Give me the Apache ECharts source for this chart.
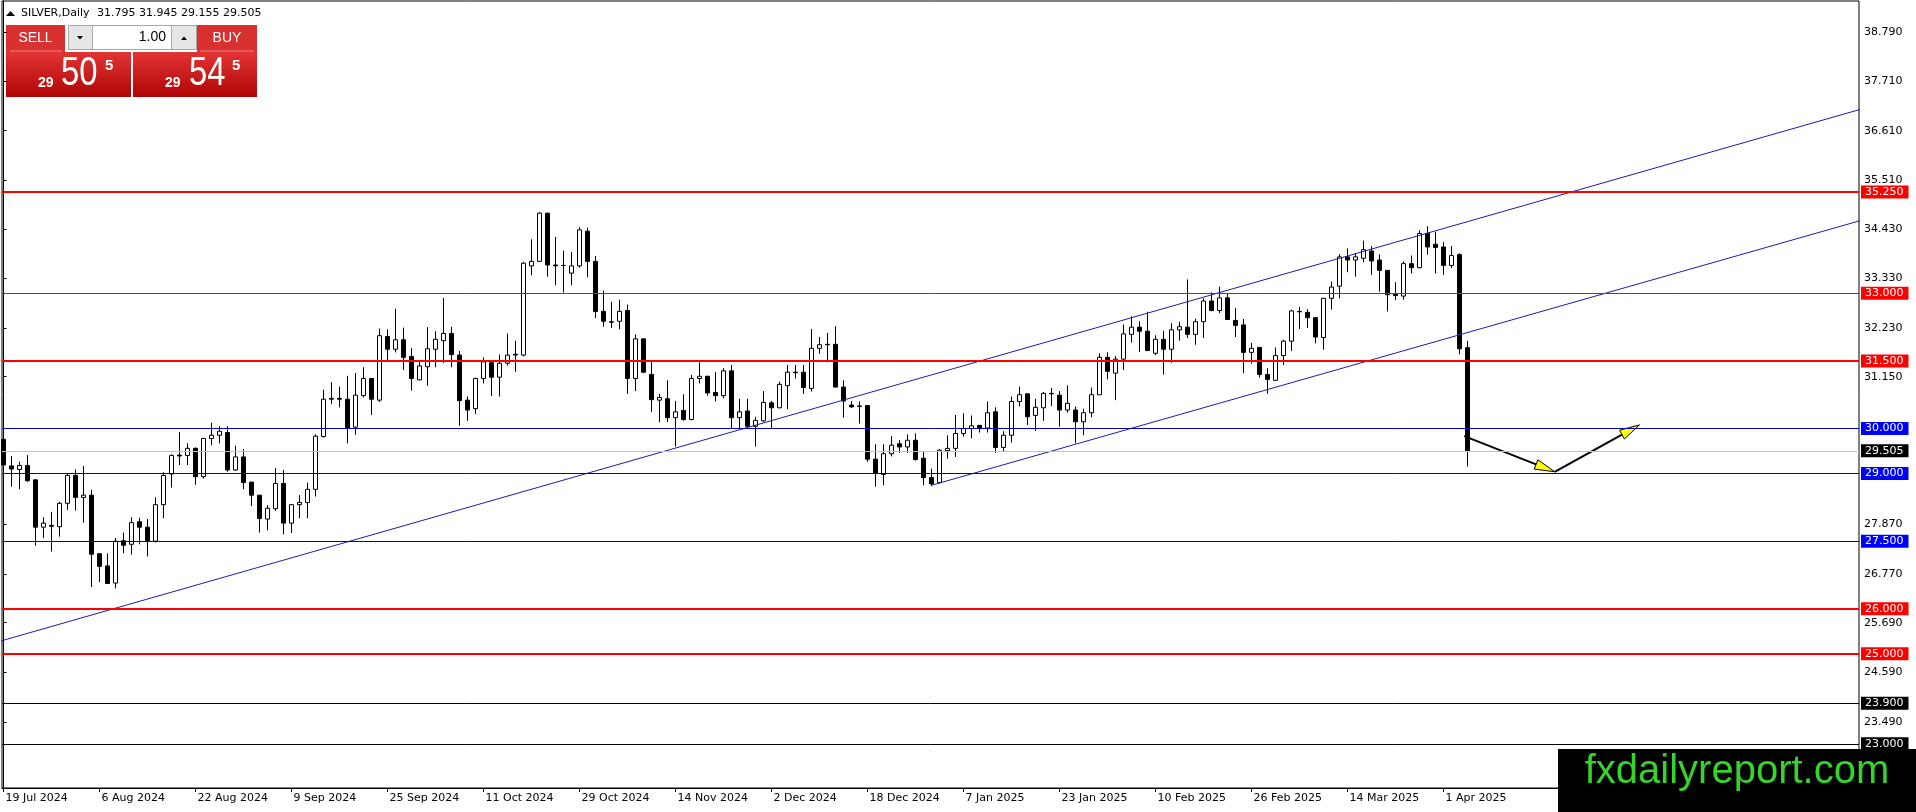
<!DOCTYPE html>
<html>
<head>
<meta charset="utf-8">
<script src="https://cdn.jsdelivr.net/npm/echarts@6/dist/echarts.min.js"></script>
<style>
html, body { margin: 0; padding: 0; background: #fff; }
#main { width: 1916px; height: 812px; }
</style>
</head>
<body>
<div id="main"></div>
<script>
// SILVER daily, 19 Jul 2024 .. 4 Apr 2025
const OPEN = [
  29.76, 29.17, 29.09, 29.18, 28.86, 27.81, 27.85, 27.82, 28.34, 28.96,
  28.47, 28.52, 27.22, 26.95, 26.57, 27.51, 27.43, 27.93, 27.81, 27.50,
  28.31, 28.99, 29.41, 29.40, 29.56, 28.93, 29.78, 29.85, 29.91, 29.08,
  29.37, 28.81, 28.52, 27.99, 28.22, 28.78, 27.90, 28.31, 28.36, 28.65,
  29.82, 30.65, 30.67, 30.65, 30.03, 30.73, 31.11, 30.63, 32.04, 31.76,
  31.97, 31.60, 31.08, 31.37, 31.76, 31.95, 32.11, 31.63, 30.63, 30.44,
  31.11, 31.46, 31.14, 31.45, 31.63, 31.63, 33.61, 33.71, 34.78, 33.63,
  33.62, 33.45, 33.61, 34.38, 33.71, 32.60, 32.37, 32.38, 32.62, 31.11,
  31.99, 31.20, 30.63, 30.66, 30.24, 30.40, 30.20, 31.11, 31.16, 30.80,
  30.73, 31.28, 30.24, 30.39, 30.05, 30.17, 30.57, 30.46, 30.95, 31.25,
  31.25, 30.89, 31.78, 31.86, 31.87, 30.92, 30.52, 30.49, 30.51, 29.32,
  28.98, 29.44, 29.66, 29.59, 29.74, 29.34, 28.91, 28.80, 29.51, 29.56,
  29.89, 30.00, 30.07, 30.01, 30.37, 29.58, 29.85, 30.60, 30.77, 30.29,
  30.46, 30.78, 30.74, 30.41, 30.41, 30.15, 30.35, 30.75, 31.58, 31.23,
  31.54, 32.09, 32.25, 32.16, 31.67, 31.98, 31.76, 32.19, 32.25, 32.09,
  32.37, 32.83, 32.62, 32.90, 32.40, 32.30, 31.69, 31.80, 31.20, 31.07,
  31.62, 31.94, 32.60, 32.58, 32.46, 32.02, 32.89, 33.16, 33.81, 33.74,
  33.78, 33.94, 33.74, 33.51, 32.98, 32.94, 33.66, 33.57, 34.33, 34.09,
  34.03, 33.62, 33.86, 31.795
];
const HIGH = [
  29.80, 29.39, 29.26, 29.41, 28.87, 28.03, 28.15, 28.37, 28.99, 29.09,
  29.17, 28.64, 27.23, 27.23, 27.57, 27.69, 28.03, 28.02, 27.99, 28.47,
  29.03, 29.43, 29.92, 29.67, 29.58, 29.79, 30.13, 30.05, 30.05, 29.62,
  29.54, 28.81, 28.52, 28.30, 29.12, 29.08, 28.31, 28.52, 28.80, 29.87,
  30.86, 31.03, 30.93, 31.17, 31.23, 31.36, 31.12, 32.22, 32.20, 32.66,
  32.24, 31.79, 31.52, 32.25, 32.16, 32.90, 32.26, 31.72, 30.71, 31.13,
  31.58, 31.48, 31.64, 32.11, 31.95, 33.70, 34.20, 34.80, 34.79, 34.25,
  33.95, 33.92, 34.47, 34.46, 33.83, 33.06, 32.81, 32.86, 32.75, 32.09,
  32.00, 31.49, 30.77, 31.07, 30.61, 30.76, 31.19, 31.47, 31.17, 31.25,
  31.34, 31.41, 30.66, 30.66, 30.26, 30.83, 30.61, 31.04, 31.41, 31.41,
  31.41, 32.21, 32.03, 32.12, 32.27, 31.07, 30.61, 30.60, 30.52, 29.65,
  29.65, 29.83, 29.74, 29.87, 29.89, 29.50, 29.11, 29.54, 29.85, 30.30,
  30.34, 30.29, 30.07, 30.60, 30.47, 29.94, 30.71, 30.93, 30.78, 30.66,
  30.81, 30.90, 30.83, 30.96, 30.49, 30.44, 30.91, 31.67, 31.69, 31.61,
  32.31, 32.49, 32.38, 32.59, 32.07, 32.17, 32.34, 32.37, 33.31, 32.44,
  32.89, 33.02, 33.15, 33.00, 32.68, 32.43, 31.90, 31.81, 31.34, 31.80,
  31.97, 32.64, 32.70, 32.65, 32.47, 32.90, 33.26, 33.87, 34.00, 33.89,
  34.17, 34.05, 33.87, 33.52, 33.25, 33.71, 33.84, 34.40, 34.49, 34.37,
  34.14, 34.05, 33.89, 31.945
];
const LOW = [
  28.86, 28.71, 28.65, 28.82, 27.40, 27.57, 27.27, 27.60, 28.19, 28.18,
  27.91, 26.48, 26.59, 26.56, 26.45, 27.23, 27.20, 27.43, 27.16, 27.47,
  28.01, 28.69, 29.19, 29.19, 28.75, 28.89, 29.63, 29.67, 29.04, 29.06,
  28.65, 28.28, 27.69, 27.74, 28.17, 27.65, 27.68, 28.01, 28.01, 28.49,
  29.80, 30.54, 30.47, 29.67, 29.86, 30.69, 30.30, 30.59, 31.52, 31.69,
  31.30, 30.84, 31.07, 30.95, 31.36, 31.45, 31.36, 30.06, 30.17, 30.32,
  31.00, 30.72, 30.71, 31.40, 31.26, 31.60, 33.40, 33.70, 33.37, 33.18,
  33.02, 33.18, 33.57, 33.36, 32.45, 32.26, 32.23, 32.20, 30.77, 30.83,
  31.23, 30.37, 30.14, 30.14, 29.60, 30.17, 30.18, 31.00, 30.73, 30.60,
  30.67, 30.00, 30.00, 30.00, 29.60, 30.15, 30.00, 30.45, 30.43, 31.11,
  30.77, 30.82, 31.66, 31.47, 30.91, 30.24, 30.46, 30.11, 29.26, 28.71,
  28.74, 29.38, 29.46, 29.46, 29.29, 28.74, 28.72, 28.78, 29.33, 29.37,
  29.82, 29.78, 29.91, 29.91, 29.46, 29.48, 29.69, 30.49, 30.08, 29.95,
  30.17, 30.50, 30.04, 30.35, 29.67, 29.85, 30.25, 30.75, 31.09, 30.63,
  31.30, 31.91, 31.70, 31.73, 31.63, 31.20, 31.46, 31.95, 32.01, 31.86,
  32.01, 32.60, 32.56, 32.42, 32.03, 31.23, 31.44, 31.13, 30.77, 31.06,
  31.41, 31.72, 32.21, 32.23, 31.89, 31.75, 32.64, 32.89, 33.47, 33.37,
  33.69, 33.41, 33.04, 32.60, 32.85, 32.86, 33.44, 33.56, 33.86, 33.44,
  33.41, 33.56, 31.65, 29.155
];
const CLOSE = [
  29.19, 29.10, 29.18, 28.84, 27.81, 27.90, 27.83, 28.34, 28.96, 28.47,
  28.52, 27.21, 26.94, 26.56, 27.50, 27.41, 27.91, 27.81, 27.50, 28.31,
  28.96, 29.40, 29.39, 29.56, 28.93, 29.78, 29.85, 29.94, 29.08, 29.37,
  28.80, 28.52, 28.00, 28.23, 28.78, 27.90, 28.31, 28.36, 28.65, 29.83,
  30.65, 30.67, 30.65, 30.01, 30.74, 31.11, 30.65, 32.06, 31.76, 31.97,
  31.58, 31.11, 31.39, 31.77, 31.98, 32.11, 31.64, 30.62, 30.41, 31.11,
  31.48, 31.14, 31.45, 31.63, 31.65, 33.67, 33.71, 34.78, 33.63, 33.61,
  33.62, 33.61, 34.41, 33.71, 32.60, 32.38, 32.36, 32.60, 31.11, 31.99,
  31.25, 30.64, 30.69, 30.24, 30.37, 30.20, 31.11, 31.16, 30.79, 30.73,
  31.28, 30.24, 30.37, 30.05, 30.18, 30.58, 30.46, 30.98, 31.25, 31.24,
  30.91, 31.78, 31.86, 31.87, 30.92, 30.61, 30.48, 30.50, 29.32, 29.01,
  29.44, 29.63, 29.59, 29.74, 29.31, 28.91, 28.77, 29.52, 29.56, 29.89,
  30.00, 30.06, 30.01, 30.35, 29.58, 29.85, 30.60, 30.75, 30.26, 30.47,
  30.78, 30.77, 30.41, 30.56, 30.15, 30.35, 30.75, 31.58, 31.27, 31.54,
  32.10, 32.25, 32.16, 31.73, 31.98, 31.76, 32.19, 32.26, 32.09, 32.37,
  32.83, 32.62, 32.90, 32.42, 32.29, 31.69, 31.78, 31.20, 31.09, 31.62,
  31.94, 32.61, 32.59, 32.46, 32.03, 32.89, 33.14, 33.81, 33.74, 33.81,
  33.97, 33.72, 33.51, 32.97, 32.95, 33.66, 33.57, 34.33, 34.03, 34.02,
  33.62, 33.84, 31.77, 29.505
];

// date axis: a label every 12 bars
const TICK_POS = [0, 12, 24, 36, 48, 60, 72, 84, 96, 108, 120, 132, 144, 156, 168, 180];
const TICK_LABELS = [
  '19 Jul 2024', '6 Aug 2024', '22 Aug 2024', '9 Sep 2024', '25 Sep 2024', '11 Oct 2024',
  '29 Oct 2024', '14 Nov 2024', '2 Dec 2024', '18 Dec 2024', '7 Jan 2025', '23 Jan 2025',
  '10 Feb 2025', '26 Feb 2025', '14 Mar 2025', '1 Apr 2025'
];
const PRICE_TICKS = [38.79, 37.71, 36.61, 35.51, 34.43, 33.33, 32.23, 31.15, 27.87, 26.77, 25.69, 24.59, 23.49];

// horizontal levels and their kind
const LEVEL_VALUES = [35.25, 33.0, 31.5, 30.0, 29.505, 29.0, 27.5, 26.0, 25.0, 23.9, 23.0];
const LEVEL_KINDS = ['redThick', 'red', 'redThick', 'blue', 'bid', 'blue', 'blue', 'redThick', 'redThick', 'black', 'black'];

// trend channel, [bar index, price]
const TREND_UPPER = [[-1, 25.25], [233, 37.13]];
const TREND_LOWER = [[116, 28.74], [233, 34.66]];

// projection arrows: [from bar, from price, to bar, to price]
const ARROWS = [
  [182.6, 29.83, 193.9, 29.04],
  [193.9, 29.04, 204.5, 30.08]
];

const KIND_STYLE = {
  redThick: { line: '#ff0000', width: 2, bg: '#ff0000' },
  red: { line: '#ff0000', width: 1, bg: '#ff0000' },
  blue: { line: '#0000b4', width: 1, bg: '#0000ff' },
  bid: { line: '#c0c0c0', width: 1, bg: '#000000' },
  black: { line: '#000000', width: 1, bg: '#000000' }
};

const FONT = 'DejaVu Sans';
const TREND_COLOR = '#1c1ca8';
const candles = OPEN.map((o, i) => [i, o, CLOSE[i], LOW[i], HIGH[i]]);

const levelLines = LEVEL_VALUES.map((v, i) => {
  const s = KIND_STYLE[LEVEL_KINDS[i]];
  return {
    yAxis: v,
    lineStyle: { color: s.line, width: s.width, type: 'solid' },
    label: { backgroundColor: s.bg }
  };
});

function renderArrow(params, api) {
  const a = api.coord([api.value(0), api.value(1)]);
  const b = api.coord([api.value(2), api.value(3)]);
  const dx = b[0] - a[0], dy = b[1] - a[1];
  const len = Math.sqrt(dx * dx + dy * dy);
  const ux = dx / len, uy = dy / len;
  const hl = 20, hw = 5;
  const bx = b[0] - ux * hl, by = b[1] - uy * hl;
  return {
    type: 'group',
    children: [
      { type: 'line', shape: { x1: a[0], y1: a[1], x2: bx, y2: by }, style: { stroke: '#000', lineWidth: 2 } },
      {
        type: 'polygon',
        shape: { points: [[b[0], b[1]], [bx - uy * hw, by + ux * hw], [bx + uy * hw, by - ux * hw]] },
        style: { fill: '#ffff00', stroke: '#000', lineWidth: 1 }
      }
    ]
  };
}

var myChart = echarts.init(document.getElementById('main'))

var redGrad = new echarts.graphic.LinearGradient(0, 0, 0, 1, [
  { offset: 0, color: '#e33434' },
  { offset: 1, color: '#b00606' }
]);

var option = {
  animation: false,
  backgroundColor: '#fff',
  grid: {
    left: 2, right: 57, top: 1, bottom: 24,
    show: true, borderColor: '#000', borderWidth: 1
  },
  xAxis: {
    type: 'value',
    min: -0.19,
    max: 231.94,
    axisLine: { show: true, lineStyle: { color: '#000', width: 1 } },
    axisTick: { show: true, customValues: TICK_POS, length: 4, lineStyle: { color: '#000' } },
    axisLabel: {
      customValues: TICK_POS,
      formatter: (v) => TICK_LABELS[TICK_POS.indexOf(v)],
      align: 'left',
      padding: [0, 0, 0, 2],
      margin: 5,
      color: '#000',
      fontSize: 11,
      fontFamily: FONT
    },
    splitLine: { show: false }
  },
  yAxis: {
    type: 'value',
    position: 'right',
    min: 22.02,
    max: 39.49,
    axisLine: { show: true, lineStyle: { color: '#000', width: 1 } },
    axisTick: { show: true, customValues: PRICE_TICKS, length: 3, lineStyle: { color: '#000' } },
    axisLabel: {
      customValues: PRICE_TICKS,
      formatter: (v) => v.toFixed(3),
      margin: 5,
      color: '#000',
      fontSize: 11,
      fontFamily: FONT
    },
    splitLine: { show: false }
  },
  series: [
    {
      type: 'candlestick',
      data: candles,
      encode: { x: 0, y: [1, 2, 3, 4] },
      barWidth: 4,
      itemStyle: {
        color: '#fff',
        color0: '#000',
        borderColor: '#000',
        borderColor0: '#000',
        borderWidth: 1
      },
      markLine: {
        silent: true,
        symbol: ['none', 'none'],
        precision: 3,
        animation: false,
        label: {
          show: true,
          position: 'end',
          distance: 2,
          formatter: (p) => Number(p.value).toFixed(3),
          color: '#fff',
          fontSize: 11,
          fontFamily: FONT,
          padding: [1, 5, 1, 4]
        },
        data: levelLines
      }
    },
    {
      type: 'line',
      data: TREND_UPPER,
      symbol: 'none',
      silent: true,
      lineStyle: { color: TREND_COLOR, width: 1 },
      z: 3
    },
    {
      type: 'line',
      data: TREND_LOWER,
      symbol: 'none',
      silent: true,
      lineStyle: { color: TREND_COLOR, width: 1 },
      z: 3
    },
    {
      type: 'custom',
      data: ARROWS,
      encode: { x: [0, 2], y: [1, 3] },
      renderItem: renderArrow,
      silent: true,
      z: 4
    }
  ],
  graphic: [
    // header
    { type: 'polygon', shape: { points: [[6, 16], [10.5, 11], [15, 16]] }, style: { fill: '#000' } },
    { type: 'text', x: 21, y: 13, style: { text: 'SILVER,Daily', fontSize: 11, fontFamily: FONT, fill: '#000', verticalAlign: 'middle' } },
    { type: 'text', x: 97, y: 13, style: { text: '31.795 31.945 29.155 29.505', fontSize: 11, fontFamily: FONT, fill: '#000', verticalAlign: 'middle' } },
    // one-click trading panel
    { type: 'rect', shape: { x: 6, y: 25, width: 59, height: 27 }, style: { fill: '#d93030' } },
    { type: 'rect', shape: { x: 197, y: 25, width: 60, height: 27 }, style: { fill: '#d93030' } },
    { type: 'line', shape: { x1: 10, y1: 51, x2: 62, y2: 51 }, style: { stroke: '#ee8888', lineWidth: 1 } },
    { type: 'line', shape: { x1: 200, y1: 51, x2: 254, y2: 51 }, style: { stroke: '#ee8888', lineWidth: 1 } },
    { type: 'text', x: 35.5, y: 38.5, style: { text: 'SELL', fontSize: 14, fontFamily: 'Liberation Sans', fill: '#fff', align: 'center', verticalAlign: 'middle' } },
    { type: 'text', x: 227, y: 38.5, style: { text: 'BUY', fontSize: 14, fontFamily: 'Liberation Sans', fill: '#fff', align: 'center', verticalAlign: 'middle' } },
    { type: 'rect', shape: { x: 68.5, y: 25.5, width: 128, height: 24 }, style: { fill: '#fff', stroke: '#a8a8a8', lineWidth: 1 } },
    { type: 'rect', shape: { x: 68.5, y: 25.5, width: 24, height: 24 }, style: { fill: '#e6e6e6', stroke: '#a8a8a8', lineWidth: 1 } },
    { type: 'rect', shape: { x: 171.5, y: 25.5, width: 25, height: 24 }, style: { fill: '#e6e6e6', stroke: '#a8a8a8', lineWidth: 1 } },
    { type: 'polygon', shape: { points: [[77, 36], [83, 36], [80, 39.5]] }, style: { fill: '#000' } },
    { type: 'polygon', shape: { points: [[181, 40], [187, 40], [184, 36.5]] }, style: { fill: '#000' } },
    { type: 'text', x: 166, y: 37.5, style: { text: '1.00', fontSize: 14, fontFamily: 'Liberation Sans', fill: '#000', align: 'right', verticalAlign: 'middle' } },
    { type: 'rect', shape: { x: 6, y: 52, width: 125, height: 45 }, style: { fill: redGrad } },
    { type: 'rect', shape: { x: 133, y: 52, width: 124, height: 45 }, style: { fill: redGrad } },
    { type: 'text', x: 38, y: 83, style: { text: '29', fontSize: 14, fontWeight: 'bold', fontFamily: 'Liberation Sans', fill: '#fff', verticalAlign: 'middle' } },
    { type: 'text', x: 61, y: 74, scaleX: 0.8, style: { text: '50', fontSize: 41, fontFamily: 'Liberation Sans', fill: '#fff', verticalAlign: 'middle' } },
    { type: 'text', x: 105, y: 66, style: { text: '5', fontSize: 15, fontWeight: 'bold', fontFamily: 'Liberation Sans', fill: '#fff', verticalAlign: 'middle' } },
    { type: 'text', x: 165, y: 83, style: { text: '29', fontSize: 14, fontWeight: 'bold', fontFamily: 'Liberation Sans', fill: '#fff', verticalAlign: 'middle' } },
    { type: 'text', x: 189, y: 74, scaleX: 0.8, style: { text: '54', fontSize: 41, fontFamily: 'Liberation Sans', fill: '#fff', verticalAlign: 'middle' } },
    { type: 'text', x: 232, y: 66, style: { text: '5', fontSize: 15, fontWeight: 'bold', fontFamily: 'Liberation Sans', fill: '#fff', verticalAlign: 'middle' } },
    // watermark
    { type: 'rect', z: 100, shape: { x: 1558, y: 749, width: 358, height: 63 }, style: { fill: '#000' } },
    { type: 'text', z: 101, x: 1737, y: 772, style: { text: 'fxdailyreport.com', fontSize: 40, fontFamily: 'Liberation Sans', fill: '#36d42b', align: 'center', verticalAlign: 'middle' } }
  ]
}
myChart.setOption(option)
</script>
</body>
</html>
